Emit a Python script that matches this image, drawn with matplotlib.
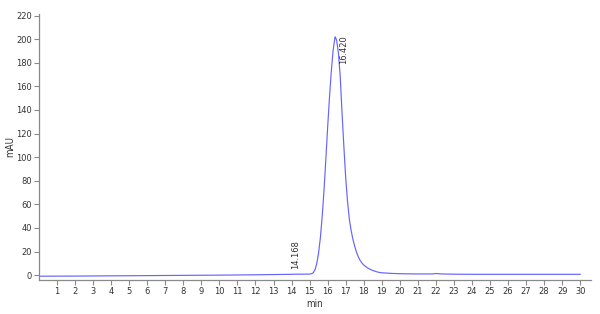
#!/usr/bin/env python3
"""HPLC chromatogram: single main peak at 16.420 min."""
import matplotlib
matplotlib.use("Agg")
import matplotlib.pyplot as plt

# retention time (min) and absorbance (mAU)
time_min = [0, 1, 2, 3, 4, 5, 6, 7, 8, 9, 10, 11, 12, 13, 14, 14.17, 14.5,
            15.0, 15.1, 15.2, 15.3, 15.4, 15.5, 15.6, 15.7, 15.8, 15.9,
            16.0, 16.1, 16.2, 16.3, 16.4, 16.42, 16.5, 16.6, 16.7, 16.8,
            16.9, 17.0, 17.1, 17.2, 17.3, 17.4, 17.5, 17.6, 17.7, 17.8,
            17.9, 18.0, 18.2, 18.4, 18.6, 18.8, 19.0, 19.5, 20, 21, 21.8,
            22.0, 22.3, 23, 24, 25, 26, 27, 28, 29, 30]
mau = [-0.9, -0.85, -0.8, -0.7, -0.6, -0.5, -0.4, -0.3, -0.2, -0.1, 0.0,
       0.15, 0.3, 0.5, 0.7, 0.8, 0.8,
       0.9, 1.2, 2.0, 4.5, 10, 19, 32, 50, 72, 98,
       125, 150, 172, 190, 201, 202, 199, 188, 168, 137,
       109, 83, 63, 48, 38, 30.5, 24.5, 19.5, 15.5, 12.5,
       10.3, 8.6, 6.2, 4.6, 3.4, 2.5, 2.0, 1.5, 1.2, 1.0, 1.0,
       1.4, 1.0, 0.8, 0.7, 0.7, 0.7, 0.7, 0.7, 0.7, 0.7]

peak_times = [14.168, 16.420]
peak_labels = ["14.168", "16.420"]
label_y = [5.5, 203]

x_ticks = list(range(1, 31))
y_ticks = list(range(0, 221, 20))

GREY = "#8a8a8a"
TXT = "#333333"
FS = 6.7

plt.rcParams["font.family"] = "DejaVu Sans"
plt.rcParams["font.stretch"] = "condensed"

fig = plt.figure(figsize=(6.0, 3.14), dpi=100)
ax = fig.add_axes([0.065, 0.108, 0.92, 0.848])
ax.plot(time_min, mau, color="#6464ff", lw=0.85)

# peak annotations (vertical text)
ax.text(peak_times[0] + 0.05, label_y[0], peak_labels[0], rotation=90,
        ha="center", va="bottom", fontsize=FS, color=TXT)
ax.text(peak_times[1] + 0.45, label_y[1], peak_labels[1], rotation=90,
        ha="center", va="top", fontsize=FS, color=TXT)

ax.set_xlim(0, 30.6)
ax.set_ylim(-4.2, 221.5)
ax.set_xticks(x_ticks)
ax.set_yticks(y_ticks)
ax.tick_params(labelsize=FS, colors=GREY, labelcolor=TXT, length=3.5,
               width=0.8, direction="out", pad=1.5)
for s in ("top", "right"):
    ax.spines[s].set_visible(False)
for s in ("left", "bottom"):
    ax.spines[s].set_color(GREY)
    ax.spines[s].set_linewidth(0.9)

ax.set_xlabel("min", fontsize=FS + 0.3, color=TXT, labelpad=2)
ax.set_ylabel("mAU", fontsize=FS + 0.3, color=TXT, labelpad=1)

fig.savefig("out.png", dpi=100, facecolor="white")
